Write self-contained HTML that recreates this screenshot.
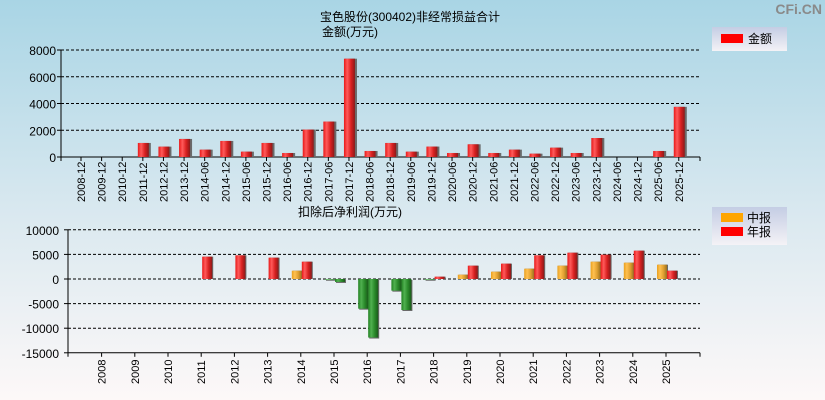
<!DOCTYPE html>
<html><head><meta charset="utf-8"><style>
html,body{margin:0;padding:0;width:825px;height:400px;overflow:hidden}
svg{display:block;font-family:"Liberation Sans","Noto Sans CJK SC",sans-serif}
</style></head><body>
<svg id="c" width="825" height="400" xmlns="http://www.w3.org/2000/svg">
<defs>
<linearGradient id="bg" x1="0" y1="0" x2="0" y2="1"><stop offset="0" stop-color="#a9d5e5"/><stop offset="0.55" stop-color="#dbe9f0"/><stop offset="1" stop-color="#fdf8f8"/></linearGradient>
<linearGradient id="gr" x1="0" y1="0" x2="1" y2="0"><stop offset="0" stop-color="#e81818"/><stop offset="0.3" stop-color="#ff5a5a"/><stop offset="0.65" stop-color="#d82020"/><stop offset="1" stop-color="#8a1a1a"/></linearGradient>
<linearGradient id="go" x1="0" y1="0" x2="1" y2="0"><stop offset="0" stop-color="#e8a020"/><stop offset="0.3" stop-color="#ffc050"/><stop offset="0.65" stop-color="#e0a030"/><stop offset="1" stop-color="#9a7020"/></linearGradient>
<linearGradient id="gg" x1="0" y1="0" x2="1" y2="0"><stop offset="0" stop-color="#208020"/><stop offset="0.3" stop-color="#50b050"/><stop offset="0.65" stop-color="#2a8a2a"/><stop offset="1" stop-color="#1a5a1a"/></linearGradient>
<linearGradient id="lg" x1="0" y1="0" x2="0" y2="1"><stop offset="0" stop-color="#c4cde4"/><stop offset="1" stop-color="#f4f2f6"/></linearGradient>
</defs>
<rect width="825" height="400" fill="url(#bg)"/>
<text x="822" y="14" font-size="14" font-weight="bold" text-anchor="end" fill="#8a8a8a">CFi.CN</text>
<text x="410" y="21" font-size="12" text-anchor="middle">宝色股份(300402)非经常损益合计</text>
<text x="322" y="36" font-size="12">金额(万元)</text>
<g><rect x="712" y="27" width="75" height="24" fill="url(#lg)"/><rect x="721" y="34" width="22" height="9" fill="#ff0000"/><text x="748" y="43" font-size="12">金额</text></g>
<text x="350" y="216" font-size="12" text-anchor="middle">扣除后净利润(万元)</text>
<g><rect x="712" y="207" width="75" height="38" fill="url(#lg)"/><rect x="721" y="213" width="22" height="9" fill="#ffa500"/><text x="747" y="222" font-size="12">中报</text><rect x="721" y="227" width="22" height="9" fill="#ff0000"/><text x="747" y="236" font-size="12">年报</text></g>
<g id="top"></g><g id="bot"></g>
</svg>
<script>
const topCats=["2008-12","2009-12","2010-12","2011-12","2012-12","2013-12","2014-06","2014-12","2015-06","2015-12","2016-06","2016-12","2017-06","2017-12","2018-06","2018-12","2019-06","2019-12","2020-06","2020-12","2021-06","2021-12","2022-06","2022-12","2023-06","2023-12","2024-06","2024-12","2025-06","2025-12"];
const topVals=[0,0,0,1050,775,1350,550,1200,400,1050,300,2050,2650,7350,450,1050,400,780,300,950,300,550,250,700,300,1420,0,0,450,3750];
const topTicks=[0,2000,4000,6000,8000];
const botCats=["2008","2009","2010","2011","2012","2013","2014","2015","2016","2017","2018","2019","2020","2021","2022","2023","2024","2025"];
const midVals=[null,null,null,null,null,null,1690,-150,-6030,-2370,-150,880,1490,2100,2710,3520,3320,2910];
const annVals=[null,null,null,4540,4810,4340,3520,-600,-11900,-6300,470,2710,3120,4810,5350,4950,5760,1690];
const botTicks=[-15000,-10000,-5000,0,5000,10000];
const NS="http://www.w3.org/2000/svg";
function mk(p,t,a){const e=document.createElementNS(NS,t);for(const k in a)e.setAttribute(k,a[k]);p.appendChild(e);return e;}
const T=document.getElementById('top');
const tx0=61,tx1=700,ty0=157,ty1=50;
const tStep=(tx1-tx0)/31;
const txc=i=>tx0+tStep*(i+0.97);
const ty=v=>ty0-(v/8000)*(ty0-ty1);
topTicks.forEach(v=>{
 if(v>0){const l=mk(T,'line',{x1:tx0,x2:tx1,y1:ty(v),y2:ty(v),stroke:'#000','stroke-dasharray':'3,2'});}
 const t=mk(T,'text',{x:tx0-5,y:ty(v)+5,'font-size':12,'text-anchor':'end'});t.textContent=v;
 
 mk(T,'line',{x1:tx0-4,x2:tx0,y1:ty(v),y2:ty(v),stroke:'#000'});
});
mk(T,'line',{x1:tx0,x2:tx0,y1:ty1,y2:ty0+4,stroke:'#000'});
mk(T,'line',{x1:tx0,x2:tx1,y1:ty0,y2:ty0,stroke:'#000'});
mk(T,'line',{x1:tx1,x2:tx1,y1:ty0,y2:ty0+4,stroke:'#000'});
topCats.forEach((c,i)=>{
 const x=txc(i);
 mk(T,'line',{x1:x,x2:x,y1:ty0,y2:ty0+4,stroke:'#000'});
 const t=mk(T,'text',{transform:`translate(${x+4},202) rotate(-90)`,'font-size':11});t.textContent=c;
 
 const v=topVals[i];
 if(v>0){const y=ty(v);
  mk(T,'rect',{x:x-4,y:y,width:12,height:ty0-y,fill:'#6a6a6a'});
  const b=mk(T,'rect',{x:x-5,y:y,width:11,height:ty0-y,fill:'url(#gr)'});
  }
});
const B=document.getElementById('bot');
const bx0=68,bx1=700,by0=279,per=24.6;
const by=v=>by0-v/5000*per;
const bxc=i=>101.6+33.2*i;
botTicks.forEach(v=>{
 if(v>-15000){const l=mk(B,'line',{x1:bx0,x2:bx1,y1:by(v),y2:by(v),stroke:'#000','stroke-dasharray':'3,2'});}
 const t=mk(B,'text',{x:bx0-9,y:by(v)+5,'font-size':12,'text-anchor':'end'});t.textContent=v;
 
 mk(B,'line',{x1:bx0-4,x2:bx0,y1:by(v),y2:by(v),stroke:'#000'});
});
const byb=by(-15000);
mk(B,'line',{x1:bx0,x2:bx0,y1:by(10000),y2:byb+4,stroke:'#000'});
mk(B,'line',{x1:bx0,x2:bx1,y1:byb,y2:byb,stroke:'#000'});
mk(B,'line',{x1:bx1,x2:bx1,y1:byb,y2:byb+4,stroke:'#000'});
function bar(x,v,grad,name){
 const y=Math.min(by(v),by0),h=Math.abs(by(v)-by0);
 mk(B,'rect',{x:x+1,y:y+(v<0?1:0),width:10,height:h,fill:'#6a6a6a'});
 const b=mk(B,'rect',{x:x,y:y,width:10,height:h,fill:grad});
 
}
botCats.forEach((c,i)=>{
 const x=bxc(i);
 mk(B,'line',{x1:x,x2:x,y1:byb,y2:byb+4,stroke:'#000'});
 const t=mk(B,'text',{transform:`translate(${x+4},384) rotate(-90)`,'font-size':11});t.textContent=c;
 
 const m=midVals[i],a=annVals[i];
 if(m!==null)bar(x-9,m,m<0?'url(#gg)':'url(#go)','bar-mid-'+c);
 if(a!==null)bar(x+1,a,a<0?'url(#gg)':'url(#gr)','bar-annual-'+c);
});
</script>
</body></html>
